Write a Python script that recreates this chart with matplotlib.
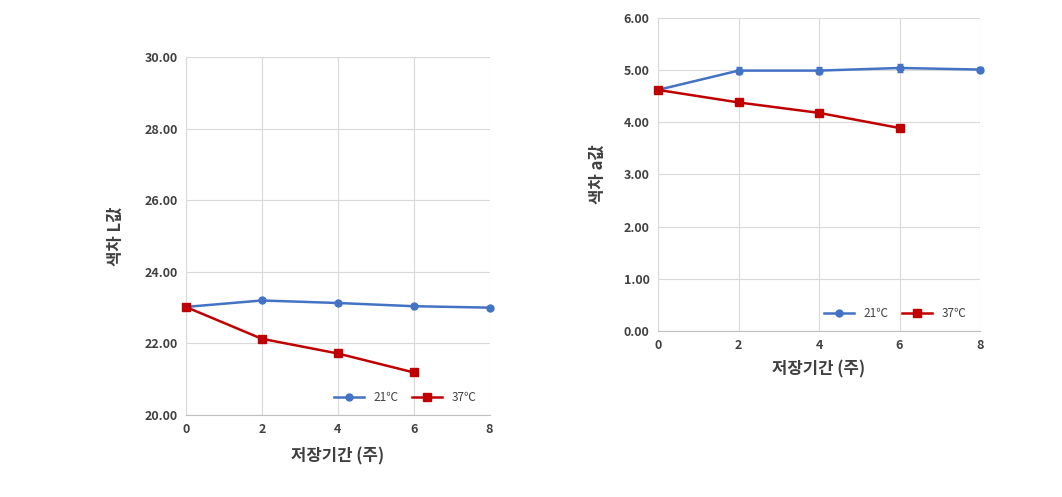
import matplotlib
matplotlib.use("Agg")
import matplotlib.pyplot as plt

plt.rcParams['font.family'] = ['Noto Sans CJK KR', 'DejaVu Sans']

weeks_21 = [0, 2, 4, 6, 8]
weeks_37 = [0, 2, 4, 6]

# 색차 L값
L_21 = [23.02, 23.20, 23.13, 23.04, 23.00]
L_37 = [23.02, 22.13, 21.72, 21.19]

# 색차 a값
a_21 = [4.62, 4.99, 4.99, 5.04, 5.01]
a_21_err = [0.04, 0.07, 0.06, 0.07, 0.05]
a_37 = [4.62, 4.38, 4.18, 3.89]

blue = '#4472C4'
red = '#C00000'

fig = plt.figure(figsize=(10.62, 4.97), dpi=100)
ax1 = fig.add_axes([0.175, 0.165, 0.286, 0.72])
ax2 = fig.add_axes([0.6196, 0.334, 0.3032, 0.63])


def style(ax, ylim, yticks):
    ax.set_xlim(0, 8)
    ax.set_ylim(*ylim)
    ax.set_xticks([0, 2, 4, 6, 8])
    ax.set_yticks(yticks)
    ax.set_yticklabels([f'{v:.2f}' for v in yticks])
    ax.grid(True, color='#D9D9D9', linewidth=0.8)
    ax.set_axisbelow(True)
    for s in ['top', 'right']:
        ax.spines[s].set_visible(False)
    ax.spines['left'].set_color('#D9D9D9')
    ax.spines['bottom'].set_color('#BFBFBF')
    ax.tick_params(length=0, labelsize=9, pad=6, colors='#404040')
    for lab in ax.get_xticklabels() + ax.get_yticklabels():
        lab.set_fontweight('bold')


def legend(ax, handles):
    ax.legend(handles=handles, loc='lower right', ncol=2, frameon=False, fontsize=8.5,
              handlelength=2.5, columnspacing=1.2, bbox_to_anchor=(0.99, 0.0),
              labelcolor='#404040')


# left chart
h1, = ax1.plot(weeks_21, L_21, color=blue, marker='o', markersize=5, linewidth=1.8,
               label='21℃', clip_on=False, zorder=3)
h2, = ax1.plot(weeks_37, L_37, color=red, marker='s', markersize=6, linewidth=1.8,
               label='37℃', clip_on=False, zorder=4)
style(ax1, (20, 30), [20, 22, 24, 26, 28, 30])
ax1.set_xlabel('저장기간 (주)', fontsize=12, fontweight='bold', color='#404040', labelpad=8)
ax1.set_ylabel('색차 L값', fontsize=12, fontweight='bold', color='#404040', labelpad=14)
legend(ax1, [h1, h2])

# right chart
ax2.errorbar(weeks_21, a_21, yerr=a_21_err, color=blue, linewidth=0, elinewidth=1,
             capsize=2, clip_on=False, zorder=3)
h3, = ax2.plot(weeks_21, a_21, color=blue, marker='o', markersize=5, linewidth=1.8,
               label='21℃', clip_on=False, zorder=3)
h4, = ax2.plot(weeks_37, a_37, color=red, marker='s', markersize=6, linewidth=1.8,
               label='37℃', clip_on=False, zorder=4)
style(ax2, (0, 6), [0, 1, 2, 3, 4, 5, 6])
ax2.set_xlabel('저장기간 (주)', fontsize=12, fontweight='bold', color='#404040', labelpad=6)
ax2.set_ylabel('색차 a값', fontsize=12, fontweight='bold', color='#404040', labelpad=12)
legend(ax2, [h3, h4])

fig.savefig('out.png', dpi=100)
